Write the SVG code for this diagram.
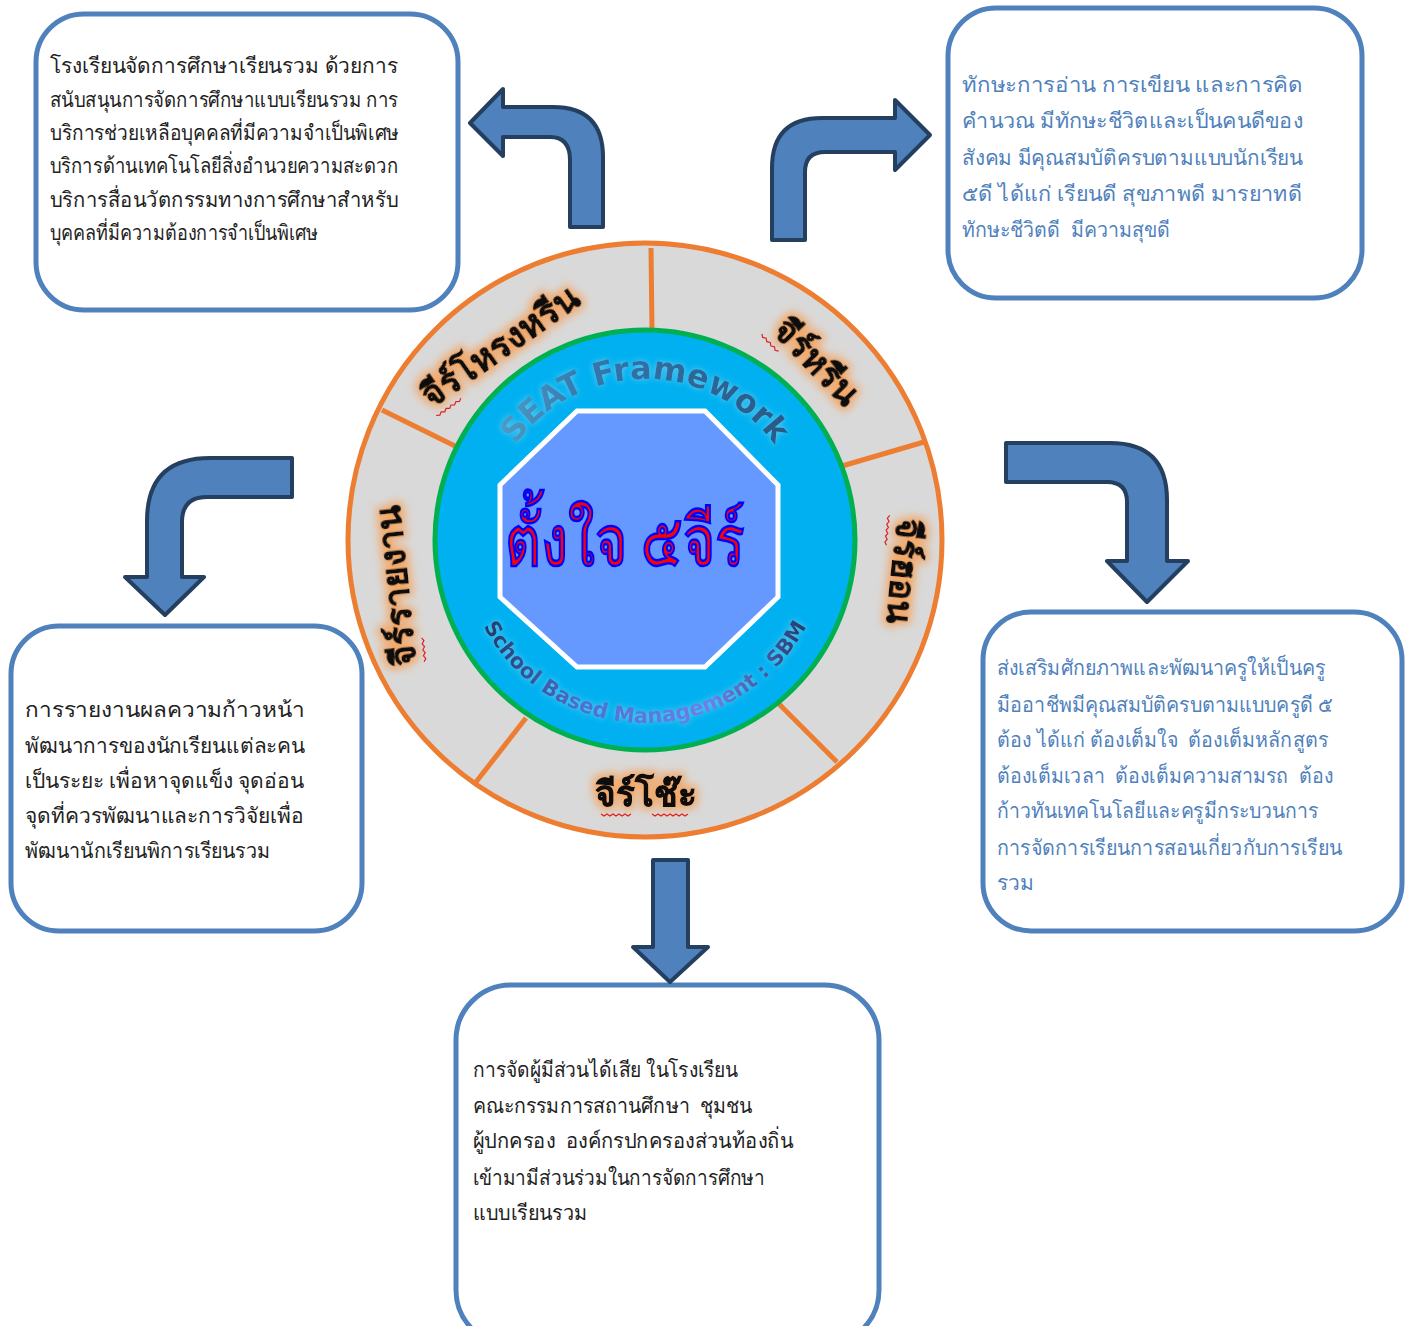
<svg xmlns="http://www.w3.org/2000/svg" width="1416" height="1326" viewBox="0 0 1416 1326">
<style>
.box{fill:#ffffff;stroke:#4f81bd;stroke-width:5}
.tx{font-family:"Noto Sans",sans-serif;font-size:21px}
.dark{fill:#222222}
.blue{fill:#4f81bd}
.arrow{fill:#4f81bd;stroke:#243f60;stroke-width:4;stroke-linejoin:round}
.lbl{font-family:"Noto Sans",sans-serif;font-size:35px;font-weight:bold;fill:#111111;stroke:#111111;stroke-width:0.8}
.div{stroke:#ed7d31;stroke-width:5}
.sq{fill:none;stroke:#e02020;stroke-width:1.2}
</style>
<defs>
<filter id="glow" x="-30%" y="-60%" width="160%" height="220%">
<feMorphology in="SourceAlpha" operator="dilate" radius="3" result="d"/>
<feGaussianBlur in="d" stdDeviation="4" result="b"/>
<feFlood flood-color="#f4a460" flood-opacity="0.9"/>
<feComposite in2="b" operator="in" result="g"/>
<feMerge><feMergeNode in="g"/><feMergeNode in="SourceGraphic"/></feMerge>
</filter>
<filter id="soft" x="-10%" y="-30%" width="120%" height="160%">
<feGaussianBlur in="SourceAlpha" stdDeviation="3" result="b"/>
<feFlood flood-color="#7fd3f0" flood-opacity="0.8"/>
<feComposite in2="b" operator="in" result="g"/>
<feGaussianBlur in="SourceGraphic" stdDeviation="0.7" result="s"/>
<feMerge><feMergeNode in="g"/><feMergeNode in="s"/></feMerge>
</filter>
<linearGradient id="seat" x1="0" y1="0" x2="1" y2="0">
<stop offset="0" stop-color="#4f9fc6"/>
<stop offset="0.3" stop-color="#3577ad"/>
<stop offset="1" stop-color="#285786"/>
</linearGradient>
<linearGradient id="sbm" x1="0" y1="0" x2="1" y2="0">
<stop offset="0" stop-color="#1f3864"/>
<stop offset="0.3" stop-color="#4a6fd0"/>
<stop offset="0.7" stop-color="#6f7fe8"/>
<stop offset="1" stop-color="#1f3864"/>
</linearGradient>
<path id="arcTop" d="M 484,540 A 161,161 0 0 1 806,540"/>
<path id="arcBot" d="M 462,540 A 183,183 0 0 0 828,540"/>
</defs>

<g id="hub">
<circle cx="645" cy="540" r="297" fill="#d9d9d9" stroke="#ed7d31" stroke-width="5"/>
<line class="div" x1="651" y1="248" x2="652" y2="330"/>
<line class="div" x1="382" y1="410" x2="455" y2="446"/>
<line class="div" x1="842" y1="466" x2="924" y2="442"/>
<line class="div" x1="779" y1="704" x2="837" y2="762"/>
<line class="div" x1="526" y1="718" x2="476" y2="782"/>
<circle cx="645" cy="540" r="210" fill="#00b0f0" stroke="#00b050" stroke-width="5"/>
<text font-family="'DejaVu Sans',sans-serif" font-size="32" font-weight="bold" fill="url(#seat)" filter="url(#soft)"><textPath href="#arcTop" startOffset="50%" text-anchor="middle">SEAT Framework</textPath></text>
<text font-family="'DejaVu Sans',sans-serif" font-size="21" font-weight="bold" fill="url(#sbm)" filter="url(#soft)"><textPath href="#arcBot" startOffset="50%" text-anchor="middle">School Based Management : SBM</textPath></text>
<polygon points="577,411 705,411 778,485 778,597 705,667 577,667 500,597 500,485" fill="#6699ff" stroke="#ffffff" stroke-width="5"/>
<text x="625" y="566" text-anchor="middle" textLength="240" lengthAdjust="spacingAndGlyphs" font-family="'Noto Sans',sans-serif" font-size="72" fill="#ff0000" stroke="#0000ff" stroke-width="2.5">ตั้งใจ ๕จีร์</text>
<g transform="translate(507,356) rotate(-35)"><text class="lbl" filter="url(#glow)" text-anchor="middle">จีร์โหรงหรีน</text><path class="sq" d="M-92,8 l3,2 3,-2 3,2 3,-2 3,2 3,-2 3,2 3,-2 3,2 3,-2"/></g>
<g transform="translate(808,370) rotate(46)"><text class="lbl" filter="url(#glow)" text-anchor="middle">จีร์หรีน</text><path class="sq" d="M-58,8 l3,2 3,-2 3,2 3,-2 3,2 3,-2 3,2 3,-2"/></g>
<g transform="translate(892,570) rotate(96)"><text class="lbl" filter="url(#glow)" text-anchor="middle">จีร์ฮอน</text><path class="sq" d="M-54,8 l3,2 3,-2 3,2 3,-2 3,2 3,-2 3,2 3,-2 3,2 3,-2"/></g>
<g transform="translate(646,806)"><text class="lbl" filter="url(#glow)" text-anchor="middle">จีร์โช๊ะ</text><path class="sq" d="M-45,8 l3,2 3,-2 3,2 3,-2 3,2 3,-2 3,2 3,-2 3,2 3,-2 M6,8 l3,2 3,-2 3,2 3,-2 3,2 3,-2 3,2 3,-2 3,2 3,-2 3,2 3,-2"/></g>
<g transform="translate(408,585) rotate(-96)"><text class="lbl" filter="url(#glow)" text-anchor="middle">จีร์รายงาน</text><path class="sq" d="M-78,8 l3,2 3,-2 3,2 3,-2 3,2 3,-2 3,2 3,-2"/></g>
</g>

<g id="box-tl">
<rect class="box" x="36" y="14" width="422" height="296" rx="48"/>
<text class="tx dark" xml:space="preserve"><tspan x="50" y="73" textLength="348" lengthAdjust="spacingAndGlyphs">โรงเรียนจัดการศึกษาเรียนรวม ด้วยการ</tspan><tspan x="50" y="107" textLength="348" lengthAdjust="spacingAndGlyphs">สนับสนุนการจัดการศึกษาแบบเรียนรวม การ</tspan><tspan x="50" y="140" textLength="349" lengthAdjust="spacingAndGlyphs">บริการช่วยเหลือบุคคลที่มีความจำเป็นพิเศษ</tspan><tspan x="50" y="173" textLength="348" lengthAdjust="spacingAndGlyphs">บริการด้านเทคโนโลยีสิ่งอำนวยความสะดวก</tspan><tspan x="50" y="207" textLength="348" lengthAdjust="spacingAndGlyphs">บริการสื่อนวัตกรรมทางการศึกษาสำหรับ</tspan><tspan x="50" y="240" textLength="268" lengthAdjust="spacingAndGlyphs">บุคคลที่มีความต้องการจำเป็นพิเศษ</tspan></text>
</g>

<g id="box-tr">
<rect class="box" x="948" y="8" width="414" height="290" rx="48"/>
<text class="tx blue" xml:space="preserve"><tspan x="962" y="92" textLength="341" lengthAdjust="spacingAndGlyphs">ทักษะการอ่าน การเขียน และการคิด</tspan><tspan x="962" y="128" textLength="341" lengthAdjust="spacingAndGlyphs">คำนวณ มีทักษะชีวิตและเป็นคนดีของ</tspan><tspan x="962" y="165" textLength="341" lengthAdjust="spacingAndGlyphs">สังคม มีคุณสมบัติครบตามแบบนักเรียน</tspan><tspan x="962" y="201" textLength="340" lengthAdjust="spacingAndGlyphs">๕ดี ได้แก่ เรียนดี สุขภาพดี มารยาทดี</tspan><tspan x="962" y="237" textLength="208" lengthAdjust="spacingAndGlyphs">ทักษะชีวิตดี  มีความสุขดี</tspan></text>
</g>

<g id="box-l">
<rect class="box" x="11" y="626" width="351" height="305" rx="48"/>
<text class="tx dark" xml:space="preserve"><tspan x="25" y="717" textLength="280" lengthAdjust="spacingAndGlyphs">การรายงานผลความก้าวหน้า</tspan><tspan x="25" y="753" textLength="280" lengthAdjust="spacingAndGlyphs">พัฒนาการของนักเรียนแต่ละคน</tspan><tspan x="25" y="788" textLength="279" lengthAdjust="spacingAndGlyphs">เป็นระยะ เพื่อหาจุดแข็ง จุดอ่อน</tspan><tspan x="25" y="823" textLength="279" lengthAdjust="spacingAndGlyphs">จุดที่ควรพัฒนาและการวิจัยเพื่อ</tspan><tspan x="25" y="858" textLength="245" lengthAdjust="spacingAndGlyphs">พัฒนานักเรียนพิการเรียนรวม</tspan></text>
</g>

<g id="box-r">
<rect class="box" x="983" y="612" width="419" height="319" rx="48"/>
<text class="tx blue" xml:space="preserve"><tspan x="997" y="675" textLength="328" lengthAdjust="spacingAndGlyphs">ส่งเสริมศักยภาพและพัฒนาครูให้เป็นครู</tspan><tspan x="997" y="712" textLength="336" lengthAdjust="spacingAndGlyphs">มืออาชีพมีคุณสมบัติครบตามแบบครูดี ๕</tspan><tspan x="997" y="747" textLength="331" lengthAdjust="spacingAndGlyphs">ต้อง ได้แก่ ต้องเต็มใจ  ต้องเต็มหลักสูตร</tspan><tspan x="997" y="783" textLength="336" lengthAdjust="spacingAndGlyphs">ต้องเต็มเวลา  ต้องเต็มความสามรถ  ต้อง</tspan><tspan x="997" y="818" textLength="321" lengthAdjust="spacingAndGlyphs">ก้าวทันเทคโนโลยีและครูมีกระบวนการ</tspan><tspan x="997" y="855" textLength="345" lengthAdjust="spacingAndGlyphs">การจัดการเรียนการสอนเกี่ยวกับการเรียน</tspan><tspan x="997" y="890">รวม</tspan></text>
</g>

<g id="box-b">
<rect class="box" x="456" y="985" width="423" height="360" rx="55"/>
<text class="tx dark" xml:space="preserve"><tspan x="473" y="1077" textLength="265" lengthAdjust="spacingAndGlyphs">การจัดผู้มีส่วนได้เสีย ในโรงเรียน</tspan><tspan x="473" y="1113" textLength="279" lengthAdjust="spacingAndGlyphs">คณะกรรมการสถานศึกษา  ชุมชน</tspan><tspan x="473" y="1148" textLength="320" lengthAdjust="spacingAndGlyphs">ผู้ปกครอง  องค์กรปกครองส่วนท้องถิ่น</tspan><tspan x="473" y="1185" textLength="292" lengthAdjust="spacingAndGlyphs">เข้ามามีส่วนร่วมในการจัดการศึกษา</tspan><tspan x="473" y="1220" textLength="114" lengthAdjust="spacingAndGlyphs">แบบเรียนรวม</tspan></text>
</g>

<g id="connectors">
<path class="arrow" d="M570,227 L570,160 Q570,137 550,137 L503,137 L503,156 L470,123 L503,89 L503,107 L553,107 Q603,107 603,157 L603,227 Z"/>
<path class="arrow" d="M772,240 L772,168 Q772,118 822,118 L895,118 L895,100 L930,135 L895,170 L895,152 L825,152 Q805,152 805,172 L805,240 Z"/>
<path class="arrow" d="M292,458 L210,458 Q147,458 147,521 L147,577 L125,577 L165,615 L204,577 L182,577 L182,522 Q182,497 207,497 L292,497 Z"/>
<path class="arrow" d="M1006,443 L1110,443 Q1167,443 1167,500 L1167,561 L1188,561 L1147,602 L1107,561 L1127,561 L1127,502 Q1127,482 1107,482 L1006,482 Z"/>
<path class="arrow" d="M653,860 L688,860 L688,947 L708,947 L670,982 L633,947 L653,947 Z"/>
</g>
</svg>
